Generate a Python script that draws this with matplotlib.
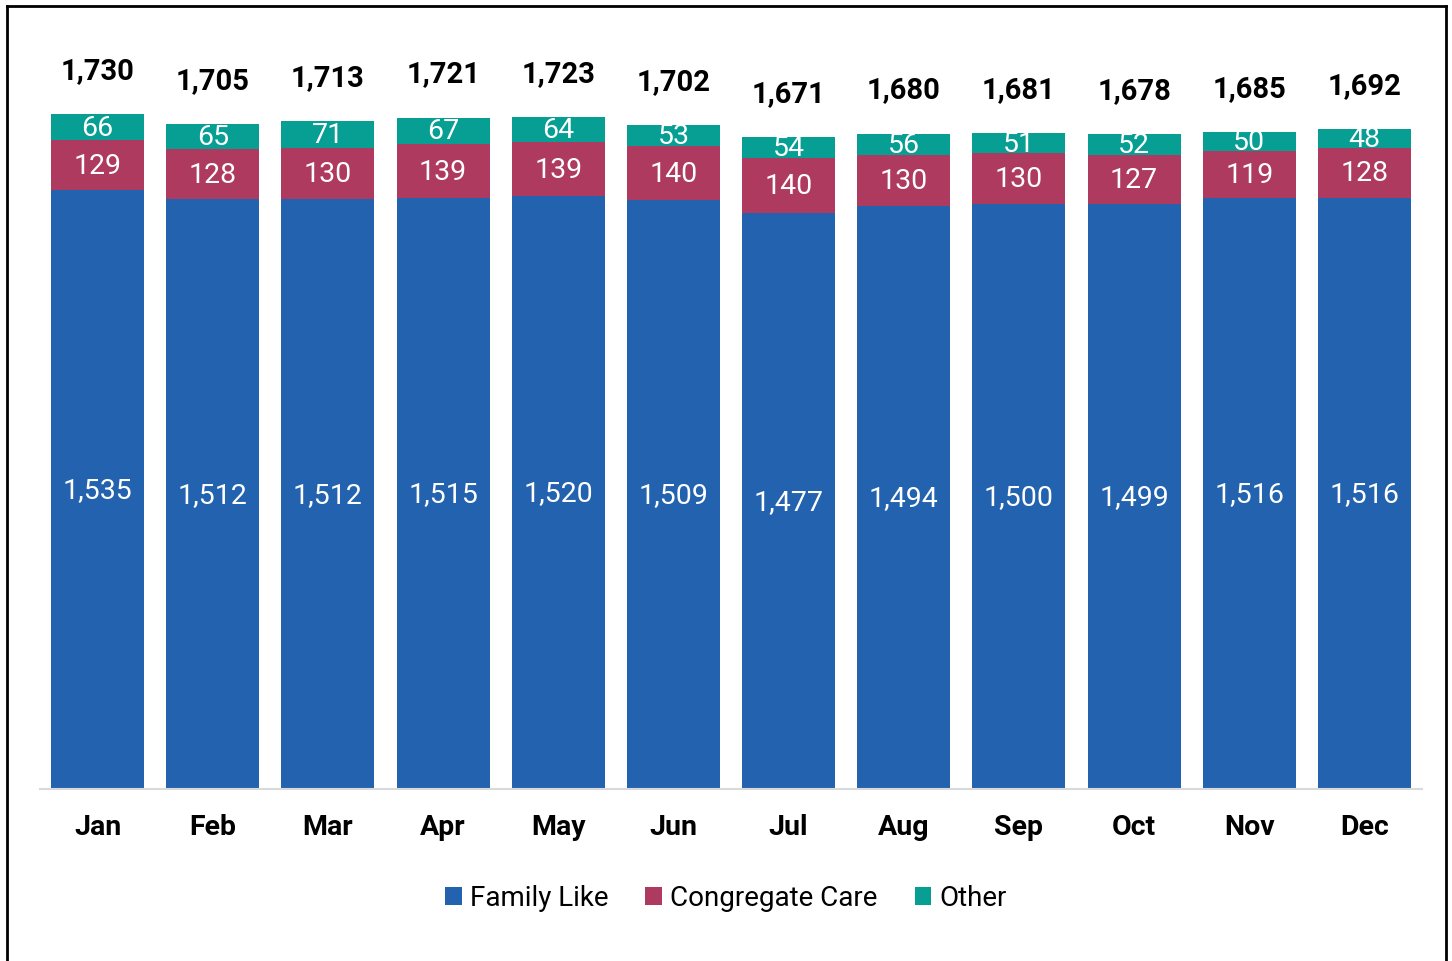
import matplotlib
matplotlib.use("Agg")
import matplotlib.pyplot as plt
from matplotlib.lines import Line2D
import numpy as np

plt.rcParams['font.family'] = ['Roboto', 'DejaVu Sans']

months = ["Jan", "Feb", "Mar", "Apr", "May", "Jun", "Jul", "Aug", "Sep", "Oct", "Nov", "Dec"]
family_like = [1535, 1512, 1512, 1515, 1520, 1509, 1477, 1494, 1500, 1499, 1516, 1516]
congregate = [129, 128, 130, 139, 139, 140, 140, 130, 130, 127, 119, 128]
other = [66, 65, 71, 67, 64, 53, 54, 56, 51, 52, 50, 48]
totals = [1730, 1705, 1713, 1721, 1723, 1702, 1671, 1680, 1681, 1678, 1685, 1692]

blue = "#2262AE"
maroon = "#AF3A5F"
teal = "#079E94"

fig = plt.figure(figsize=(14.52, 9.61), dpi=100)
ax = fig.add_axes([40 / 1452, 1 - 789 / 961, 1382 / 1452, 749 / 961])

x = np.arange(len(months))
fam = np.array(family_like)
con = np.array(congregate)
oth = np.array(other)

w = 0.807
b1 = ax.bar(x, fam, w, color=blue, label="Family Like")
b2 = ax.bar(x, con, w, bottom=fam, color=maroon, label="Congregate Care")
b3 = ax.bar(x, oth, w, bottom=fam + con, color=teal, label="Other")

# segment labels
for i in range(len(x)):
    ax.text(x[i], fam[i] / 2 - 3, f"{fam[i]:,}", ha="center", va="center",
            color="white", fontsize=20.5)
    ax.text(x[i], fam[i] + con[i] / 2 - 3, f"{con[i]:,}", ha="center", va="center",
            color="white", fontsize=20.5)
    ax.text(x[i], fam[i] + con[i] + oth[i] / 2 - 3, f"{oth[i]:,}", ha="center",
            va="center", color="white", fontsize=20.5)
    ax.annotate(f"{totals[i]:,}", (x[i], fam[i] + con[i] + oth[i]),
                xytext=(0, 31), textcoords="offset points", ha="center",
                va="center", fontsize=21, fontweight="bold", color="black")

ax.set_xlim(-0.5, 11.5)
ax.set_ylim(0, 1920)
ax.set_xticks(x)
ax.set_xticklabels(months, fontsize=20.5, fontweight="bold")
ax.tick_params(axis="x", length=0, pad=18)
ax.set_yticks([])
for s in ["top", "left", "right"]:
    ax.spines[s].set_visible(False)
ax.spines["bottom"].set_color("#D9D9D9")
ax.spines["bottom"].set_linewidth(1.5)

fig.legend(handles=[b1, b2, b3], loc="center", bbox_to_anchor=(0.5, 1 - 898 / 961),
           ncol=3, frameon=False, fontsize=20, handlelength=0.6, handleheight=0.6,
           handletextpad=0.3, columnspacing=1.33)

# outer frame
fig.add_artist(Line2D([7 / 1452, 7 / 1452], [0, 1 - 6 / 961], color="black", lw=2))
fig.add_artist(Line2D([7 / 1452, 1446 / 1452], [1 - 6 / 961, 1 - 6 / 961], color="black", lw=2))
fig.add_artist(Line2D([1446 / 1452, 1446 / 1452], [0, 1 - 6 / 961], color="black", lw=2))

fig.savefig("out.png", dpi=100)
